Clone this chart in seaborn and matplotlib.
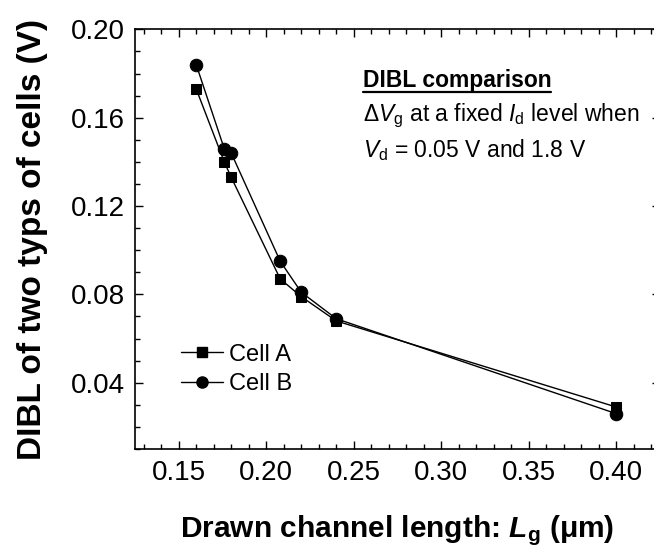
import matplotlib
matplotlib.use("Agg")
import matplotlib.pyplot as plt
import seaborn as sns
import pandas as pd
from matplotlib.ticker import MultipleLocator
from matplotlib.lines import Line2D

# channel length (um) and DIBL (V)
lg = [0.16, 0.176, 0.18, 0.208, 0.22, 0.24, 0.40]
dibl_a = [0.173, 0.140, 0.133, 0.087, 0.079, 0.068, 0.029]
dibl_b = [0.184, 0.146, 0.144, 0.095, 0.081, 0.069, 0.026]
cells = ["Cell A", "Cell B"]
xticks = [0.15, 0.20, 0.25, 0.30, 0.35, 0.40]
yticks = [0.04, 0.08, 0.12, 0.16, 0.20]

df = pd.DataFrame({
    "Lg": lg + lg,
    "DIBL": dibl_a + dibl_b,
    "cell": [cells[0]] * len(lg) + [cells[1]] * len(lg),
})

sns.set_style("ticks")
plt.rcParams["font.family"] = ["Liberation Sans", "DejaVu Sans"]
plt.rcParams["mathtext.fontset"] = "custom"
plt.rcParams["mathtext.rm"] = "Liberation Sans"
plt.rcParams["mathtext.it"] = "Liberation Sans:italic"
plt.rcParams["mathtext.bf"] = "Liberation Sans:bold"
plt.rcParams["mathtext.bfit"] = "Liberation Sans:italic:bold"
plt.rcParams["text.color"] = "black"
plt.rcParams["axes.labelcolor"] = "black"
plt.rcParams["xtick.color"] = "black"
plt.rcParams["ytick.color"] = "black"

fig = plt.figure(figsize=(6.54, 5.55), dpi=100)
ax = fig.add_axes([0.2064, 0.191, 0.8028, 0.756])

sns.lineplot(data=df, x="Lg", y="DIBL", hue="cell", style="cell",
             markers={"Cell A": "s", "Cell B": "o"}, dashes=False,
             palette=["black", "black"], linewidth=1.0, ax=ax,
             markeredgecolor="black", legend=False)
# marker sizes differ between the two series
for line, ms in zip(ax.get_lines(), [7.5, 9]):
    line.set_markersize(ms)

ax.set_xlim(0.125, 0.425)
ax.set_ylim(0.01, 0.20)
ax.xaxis.set_minor_locator(MultipleLocator(0.01))
ax.yaxis.set_minor_locator(MultipleLocator(0.01))
ax.set_xticks(xticks)
ax.set_xticklabels([f"{v:.2f}" for v in xticks])
ax.set_yticks(yticks)
ax.set_yticklabels([f"{v:.2f}" for v in yticks])
ax.tick_params(which="both", direction="in", top=True, right=True,
               width=1, color="black", labelsize=20, labelcolor="black")
ax.tick_params(which="major", length=6)
ax.tick_params(which="minor", length=3.5)
ax.tick_params(axis="y", pad=7)
ax.tick_params(axis="x", pad=8)
for s in ax.spines.values():
    s.set_linewidth(1.2)
    s.set_color("black")

ax.set_xlabel(r"Drawn channel length: $\mathbfit{L}_\mathbf{g}$ (μm)",
              fontsize=21.5, fontweight="bold", labelpad=20)
ax.set_ylabel("DIBL of two typs of cells (V)", fontsize=24,
              fontweight="bold", labelpad=17)

handles = [Line2D([], [], color="black", marker="s", markersize=7, lw=1),
           Line2D([], [], color="black", marker="o", markersize=8, lw=1)]
ax.legend(handles, cells, loc="center left", bbox_to_anchor=(0.0876, 0.19),
          frameon=False, fontsize=17, handlelength=1.8, handletextpad=0.25,
          labelspacing=0.3, borderpad=0, borderaxespad=0)

t = ax.text(0.434, 0.8625, "DIBL comparison", transform=ax.transAxes,
            fontsize=16.5, fontweight="bold", va="baseline")
ax.text(0.434, 0.781, r"$\Delta V_\mathrm{g}$ at a fixed $I_\mathrm{d}$ level when",
        transform=ax.transAxes, fontsize=16.5, va="baseline")
ax.text(0.434, 0.696, r"$V_\mathrm{d}$ = 0.05 V and 1.8 V",
        transform=ax.transAxes, fontsize=16.5, va="baseline")

# underline the heading
fig.canvas.draw()
bb = t.get_window_extent().transformed(fig.transFigure.inverted())
fig.add_artist(Line2D([bb.x0, bb.x1], [bb.y0 + 0.001, bb.y0 + 0.001],
                      color="black", lw=1.6, transform=fig.transFigure))

fig.savefig("out.png", dpi=100)
